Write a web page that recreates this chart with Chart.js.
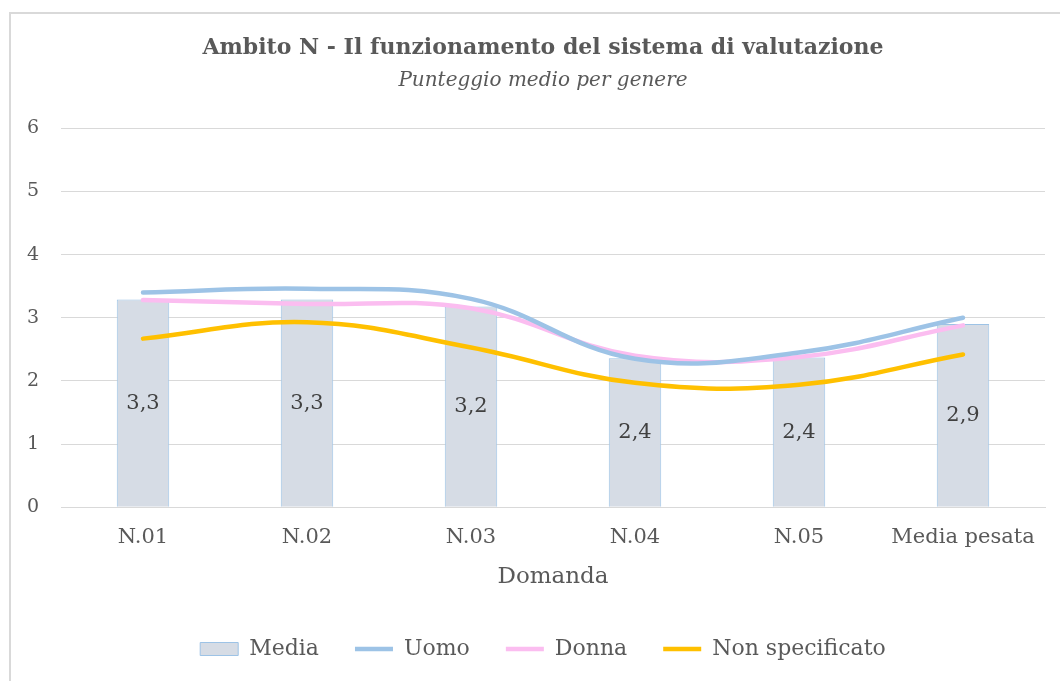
<!DOCTYPE html>
<html>
<head>
<meta charset="utf-8">
<script src="https://cdn.jsdelivr.net/npm/chart.js@4"></script>
<style>
  body { margin: 0; background: #fff; }
  #wrap { position: relative; width: 1060px; height: 681px; overflow: hidden; }
  #frame { position: absolute; left: 9px; top: 12px; width: 1100px; height: 700px; border: 2px solid #d9d9d9; pointer-events: none; }
</style>
</head>
<body>
<div id="wrap">
  <canvas id="chart" width="1060" height="681"></canvas>
  <div id="frame"></div>
</div>
<script>
// Punteggio medio per domanda e genere
const categories = ['N.01', 'N.02', 'N.03', 'N.04', 'N.05', 'Media pesata'];
const media = [3.29, 3.29, 3.18, 2.36, 2.37, 2.90];
const uomo = [3.40, 3.46, 3.30, 2.35, 2.45, 3.00];
const donna = [3.28, 3.22, 3.15, 2.40, 2.38, 2.88];
const nonSpecificato = [2.67, 2.93, 2.53, 1.97, 1.94, 2.42];
const yTicks = [0, 1, 2, 3, 4, 5, 6];

const FONT = "'DejaVu Serif', serif";
const GREY = '#595959';

// etichette al centro delle barre, con la virgola decimale
const barLabels = {
  id: 'barLabels',
  afterDatasetsDraw(chart) {
    const ctx = chart.ctx;
    const meta = chart.getDatasetMeta(0);
    ctx.save();
    ctx.font = '21px ' + FONT;
    ctx.fillStyle = '#404040';
    ctx.textAlign = 'center';
    ctx.textBaseline = 'middle';
    meta.data.forEach((bar, i) => {
      ctx.fillText(media[i].toFixed(1).replace('.', ','), bar.x, (bar.y + bar.base) / 2);
    });
    ctx.restore();
  }
};

function lineSet(label, data, color) {
  return {
    type: 'line',
    label: label,
    data: data,
    borderColor: color,
    backgroundColor: color,
    borderWidth: 4.5,
    borderCapStyle: 'round',
    pointRadius: 0,
    pointStyle: 'line',
    tension: 0.4,
    order: 1
  };
}

new Chart(document.getElementById('chart'), {
  data: {
    labels: categories,
    datasets: [
      {
        type: 'bar',
        label: 'Media',
        data: media,
        backgroundColor: '#d6dce5',
        borderColor: '#9dc3e6',
        borderWidth: 1,
        pointStyle: 'rect',
        categoryPercentage: 1,
        barPercentage: 0.32,
        order: 2
      },
      lineSet('Uomo', uomo, '#9dc3e6'),
      lineSet('Donna', donna, '#fbbdf0'),
      lineSet('Non specificato', nonSpecificato, '#ffc000')
    ]
  },
  options: {
    responsive: false,
    animation: false,
    layout: { padding: { left: 41, right: 15, top: 32, bottom: 11 } },
    plugins: {
      title: {
        display: true,
        text: 'Ambito N - Il funzionamento del sistema di valutazione',
        color: GREY,
        font: { family: FONT, size: 22, weight: 'bold' },
        padding: { top: 3, bottom: 7 }
      },
      subtitle: {
        display: true,
        text: 'Punteggio medio per genere',
        color: GREY,
        font: { family: FONT, size: 20, style: 'italic' },
        padding: { top: 0, bottom: 36 }
      },
      legend: {
        position: 'bottom',
        labels: {
          usePointStyle: true,
          pointStyleWidth: 38,
          boxHeight: 13,
          padding: 36,
          color: GREY,
          font: { family: FONT, size: 22 },
          sort: (a, b) => a.datasetIndex - b.datasetIndex
        }
      },
      tooltip: { enabled: false }
    },
    scales: {
      x: {
        grid: { display: false },
        border: { color: '#d9d9d9', width: 1 },
        ticks: { color: GREY, font: { family: FONT, size: 21 }, padding: 10 },
        title: { display: true, text: 'Domanda', color: GREY, font: { family: FONT, size: 23 }, padding: { top: 3, bottom: 11 } }
      },
      y: {
        min: 0,
        max: 6,
        afterBuildTicks(axis) { axis.ticks = yTicks.map(v => ({ value: v })); },
        afterFit(axis) { axis.width = 20; },
        grid: { color: '#d9d9d9', drawTicks: false },
        border: { display: false },
        ticks: { color: GREY, font: { family: FONT, size: 19 }, mirror: true, padding: -34 }
      }
    }
  },
  plugins: [barLabels]
});
</script>
</body>
</html>
